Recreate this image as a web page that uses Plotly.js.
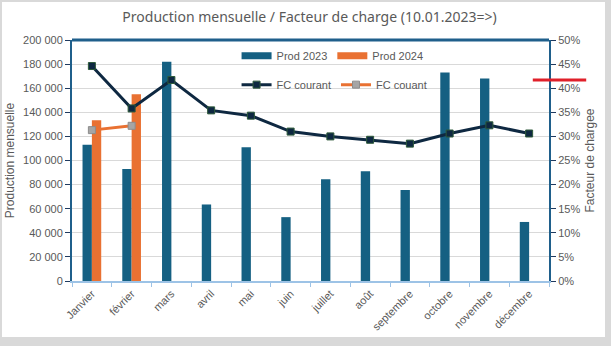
<!DOCTYPE html>
<html>
<head>
<meta charset="utf-8">
<script src="https://cdn.plot.ly/plotly-3.0.1.min.js"></script>
<style>
html,body{margin:0;padding:0;background:#d9d9d9;width:611px;height:346px;overflow:hidden;}
#chart{position:absolute;left:2px;top:2px;width:603px;height:335px;background:#fff;}
</style>
</head>
<body>
<div id="chart"></div>
<script>
const months = ["Janvier","février","mars","avril","mai","juin","juillet","août","septembre","octobre","novembre","décembre"];
const prod2023 = [113000, 93000, 182000, 63500, 111000, 53000, 84500, 91000, 75500, 173000, 168000, 49000];
const prod2024 = [133500, 155000, null, null, null, null, null, null, null, null, null, null];
const fcCourant = [0.446, 0.358, 0.417, 0.354, 0.343, 0.310, 0.300, 0.293, 0.285, 0.306, 0.323, 0.306];
const fcCouant = [0.313, 0.322, null, null, null, null, null, null, null, null, null, null];
const markerLevel = 0.417;

const grey = '#595959';
const c23 = '#156082', c24 = '#E97132';
const traces = [
  {type:'bar', name:'Prod 2023', x:months, y:prod2023, marker:{color:c23}, showlegend:false, hoverinfo:'skip'},
  {type:'bar', name:'Prod 2024', x:months, y:prod2024, marker:{color:c24}, showlegend:false, hoverinfo:'skip'},
  // legend-only entries drawn as wide swatches
  {type:'scatter', mode:'lines', name:'Prod 2023', x:[null], y:[null], line:{color:c23, width:7}, legend:'legend'},
  {type:'scatter', mode:'lines', name:'Prod 2024', x:[null], y:[null], line:{color:c24, width:7}, legend:'legend'},
  {type:'scatter', mode:'lines+markers', name:'FC courant', x:months, y:fcCourant, yaxis:'y2',
   line:{color:'#0E2841', width:3}, marker:{symbol:'square', size:7, color:'#0E2841', line:{color:'#2e5a3a', width:1}}, legend:'legend2'},
  {type:'scatter', mode:'lines+markers', name:'FC couant', x:months, y:fcCouant, yaxis:'y2',
   line:{color:'#E97132', width:3}, marker:{symbol:'square', size:7, color:'#a5a5a5', line:{color:'#8c8c8c', width:1}}, legend:'legend2'}
];

const layout = {
  width:603, height:335,
  margin:{l:70, r:56, t:38, b:56, autoexpand:false},
  paper_bgcolor:'#ffffff', plot_bgcolor:'#ffffff',
  separators:', ',
  font:{family:'Liberation Sans, Arial, sans-serif', size:11, color:grey},
  title:{text:'Production mensuelle / Facteur de charge (10.01.2023=>)', x:0.51, xanchor:'center', y:0.955, yanchor:'middle',
         font:{family:'Noto Sans, sans-serif', size:14, color:grey}},
  barmode:'group', bargap:0.53, bargroupgap:0,
  xaxis:{type:'category', range:[-0.5, 11.5], autorange:false, automargin:false, showgrid:false, showline:true, linecolor:'#9dc3e6', linewidth:2,
         ticks:'outside', tickson:'boundaries', ticklen:4, tickcolor:'#9dc3e6', tickangle:-45,
         tickfont:{size:11, color:grey}},
  yaxis:{range:[0,200000], dtick:20000, tickformat:',d', automargin:false, showgrid:true, gridcolor:'#d9d9d9', gridwidth:1,
         showline:true, linecolor:'#1f5f8b', linewidth:2, ticks:'outside', ticklen:5, tickcolor:'#1f3a5f',
         zeroline:false, tickfont:{size:11, color:grey},
         title:{text:'Production mensuelle', font:{size:12, color:grey}, standoff:6}},
  yaxis2:{range:[0,0.5], dtick:0.05, tickformat:'.0%', automargin:false, overlaying:'y', side:'right', showgrid:false,
          showline:true, linecolor:'#1f5f8b', linewidth:2, ticks:'outside', ticklen:5, tickcolor:'#1f3a5f',
          zeroline:false, tickfont:{size:11, color:grey},
          title:{text:'Facteur de chargee', font:{size:12, color:grey}, standoff:6}},
  legend:{orientation:'h', x:0.345, xanchor:'left', y:0.995, yanchor:'top', bgcolor:'rgba(0,0,0,0)',
          font:{size:11, color:grey}, itemwidth:30, traceorder:'normal'},
  legend2:{orientation:'h', x:0.345, xanchor:'left', y:0.875, yanchor:'top', bgcolor:'rgba(0,0,0,0)',
          font:{size:11, color:grey}, itemwidth:30, traceorder:'normal'},
  shapes:[
    {type:'line', xref:'paper', yref:'paper', x0:0, x1:1, y0:1, y1:1, line:{color:'#1f5f8b', width:3}},
    {type:'line', xref:'paper', yref:'y2', x0:0.966, x1:1.078, y0:markerLevel, y1:markerLevel, line:{color:'#e0202a', width:3}}
  ],
  showlegend:true
};
Plotly.newPlot('chart', traces, layout, {displayModeBar:false, staticPlot:true});
</script>
</body>
</html>
